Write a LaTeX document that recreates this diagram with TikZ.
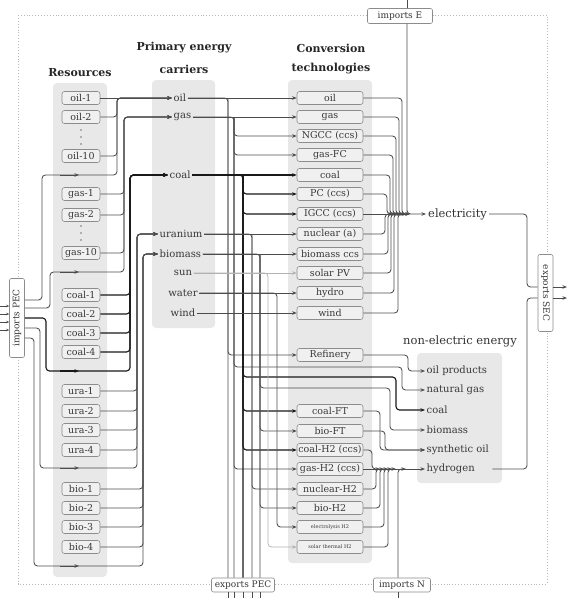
\documentclass[tikz,border=0pt]{standalone}
\usepackage{fontspec}
\setmainfont{DejaVu Serif}
\usetikzlibrary{arrows.meta,backgrounds}
\begin{document}
\begin{tikzpicture}[x=1pt,y=-1pt,
  anybox/.style={draw=black!45, fill=black!6, line width=0.6pt, rounded corners=2.5pt, inner sep=0pt, minimum height=13pt, font=\fontsize{9.5}{10}\selectfont, text=black!78},
  rbox/.style={anybox, minimum width=38pt},
  tbox/.style={anybox, minimum width=66pt},
  colbg/.style={fill=black!9, draw=none, rounded corners=4pt},
  clab/.style={inner sep=1.5pt, font=\fontsize{10}{11}\selectfont, text=black!78},
  ttl/.style={font=\bfseries\fontsize{11}{12}\selectfont, text=black!85},
  fl/.style={draw=black!70, line width=0.85pt, rounded corners=3.5pt},
  cfl/.style={draw=black!90, line width=1.15pt, rounded corners=3.5pt},
  lfl/.style={draw=black!30, line width=0.75pt, rounded corners=3.5pt},
  arw/.style={-{Stealth[length=4.5pt,width=3.5pt]}},
  portbox/.style={draw=black!45, fill=white, line width=0.6pt, rounded corners=2pt, inner sep=1pt, font=\fontsize{9}{10}\selectfont, text=black!78},
]
\useasboundingbox (0,0) rectangle (570,598);

% titles
\node[ttl] (tRes) at (80,73) {Resources};
\node[ttl] (tPri1) at (184,48) {Primary energy};
\node[ttl] (tPri2) at (184,69) {carriers};
\node[ttl] (tCon1) at (331,48) {Conversion};
\node[ttl] (tCon2) at (331,69) {technologies};
\node[font=\fontsize{11.5}{13}\selectfont, text=black!80] (tNE) at (460,341) {non-electric energy};

% resources
\foreach \n/\lbl/\y in {oila/oil-1/98, oilb/oil-2/117, oilj/oil-10/156, gasa/gas-1/194, gasb/gas-2/215, gasj/gas-10/253, coala/coal-1/295, coalb/coal-2/314, coalc/coal-3/333, coald/coal-4/352, uraa/ura-1/391, urab/ura-2/411, urac/ura-3/430, urad/ura-4/450, bioa/bio-1/489, biob/bio-2/508, bioc/bio-3/527, biod/bio-4/547}
  \node[rbox] (\n) at (81,\y) {\lbl};
\foreach \y in {130,137,144,226,233,240} \fill[black!55] (81,\y) circle[radius=0.9pt];

% carriers
\node[clab,anchor=west] (coil) at (172,98) {oil};
\node[clab,anchor=west] (cgas) at (172,117) {gas};
\node[clab,anchor=west] (ccoal) at (168,175) {coal};
\node[clab,anchor=west] (cura) at (158,234) {uranium};
\node[clab,anchor=west] (cbio) at (158,254) {biomass};
\node[clab] (csun) at (183,273) {sun};
\node[clab] (cwat) at (183,293) {water};
\node[clab] (cwind) at (183,313) {wind};

% technologies
\foreach \n/\lbl/\y in {toil/oil/98, tgas/gas/117, ngcc/NGCC (ccs)/136, gasfc/gas-FC/155, tcoal/coal/175, pc/PC (ccs)/194, igcc/IGCC (ccs)/214, nuc/nuclear (a)/234, bioccs/biomass ccs/254, pv/solar PV/273, hydro/hydro/293, twind/wind/313, refin/Refinery/355, coalft/coal-FT/411, bioft/bio-FT/431, coalh/coal-H2 (ccs)/450, gash/gas-H2 (ccs)/469, nuch/nuclear-H2/489, bioh/bio-H2/508}
  \node[tbox] (\n) at (330,\y) {\lbl};
\node[tbox, font=\fontsize{5}{6}\selectfont] (elh) at (330,527) {electrolysis H2};
\node[tbox, font=\fontsize{5}{6}\selectfont] (sth) at (330,547) {solar thermal H2};

% outputs
\node[font=\fontsize{11.5}{13}\selectfont, text=black!80, anchor=west, inner sep=2pt] (elec) at (426,214) {electricity};
\foreach \n/\lbl/\y in {neoil/oil products/371, negas/natural gas/390, necoal/coal/410, nebio/biomass/430, nesyn/synthetic oil/450, hyd/hydrogen/469}
  \node[clab,anchor=west] (\n) at (425,\y) {\lbl};

% ports
\node[portbox, minimum width=65pt, minimum height=15pt] (imE) at (400,16) {imports E};
\node[portbox, minimum width=57pt, minimum height=14pt] (imN) at (402,585) {imports N};
\node[portbox, minimum width=63pt, minimum height=14pt] (exPEC) at (243,585) {exports PEC};
\node[portbox, minimum width=15pt, minimum height=79pt] (imPEC) at (17,318) {\rotatebox{90}{imports PEC}};
\node[portbox, minimum width=15pt, minimum height=77pt] (exSEC) at (545.5,293) {\rotatebox{-90}{exports SEC}};

% backgrounds
\begin{scope}[on background layer]
  \draw[black!28, dotted, line width=0.9pt] (18,15) rectangle (547,584);
  \path[colbg] (53,83) rectangle (107,577);
  \path[colbg] (152,80) rectangle (215,328);
  \path[colbg] (288,80) rectangle (372,563);
  \path[colbg] (417,353) rectangle (502,483);
\end{scope}

% bus coordinates
\coordinate (bO) at (228,0);
\coordinate (bG) at (234,0);
\coordinate (bC) at (243,0);
\coordinate (bU) at (252,0);
\coordinate (bB) at (260,0);
\coordinate (bS) at (268,0);
\coordinate (bW) at (277,0);

% resources -> carriers
\draw[fl,arw] (oila.east) -- (coil.west);
\foreach \n in {oilb,oilj} \draw[fl,arw] (\n.east) -- (\n.east -| 117,0) -- (117,98) -- (coil.west);
\draw[fl,arw] (imPEC.east |- 0,300) -- (42,300) -- (42,175) -- (117,175) -- (117,98) -- (coil.west);
\draw[fl,arw] (60,175) -- (79,175);

\foreach \n in {gasa,gasb,gasj} \draw[fl,arw] (\n.east) -- (\n.east -| 124,0) -- (124,117) -- (cgas.west);
\draw[fl,arw] (imPEC.east |- 0,308) -- (50,308) -- (50,272) -- (124,272) -- (124,117) -- (cgas.west);
\draw[fl,arw] (60,272) -- (79,272);

\foreach \n in {coala,coalb,coalc,coald} \draw[cfl,arw] (\n.east) -- (\n.east -| 130,0) -- (130,175) -- (ccoal.west);
\draw[cfl,arw] (imPEC.east |- 0,318) -- (46,318) -- (46,371) -- (130,371) -- (130,175) -- (ccoal.west);
\draw[cfl,arw] (60,371) -- (79,371);

\foreach \n in {uraa,urab,urac,urad} \draw[fl,arw] (\n.east) -- (\n.east -| 137,0) -- (137,234) -- (cura.west);
\draw[fl,arw] (imPEC.east |- 0,328) -- (40,328) -- (40,468) -- (137,468) -- (137,234) -- (cura.west);
\draw[fl,arw] (60,468) -- (79,468);

\foreach \n in {bioa,biob,bioc,biod} \draw[fl,arw] (\n.east) -- (\n.east -| 143,0) -- (143,254) -- (cbio.west);
\draw[fl,arw] (imPEC.east |- 0,338) -- (34,338) -- (34,566) -- (143,566) -- (143,254) -- (cbio.west);
\draw[fl,arw] (60,566) -- (79,566);

\foreach \y in {306,314,322,330} \draw[fl,line width=0.5pt,-{Stealth[length=3pt,width=2.5pt]}] (0,\y) -- (imPEC.west |- 0,\y);

% carriers -> technologies
\draw[fl,arw] (coil.east) -- (toil.west);
\draw[fl] (coil.east) -- (bO |- coil) -- (bO |- exPEC.north);
\draw[fl,arw] (bO |- coil) -- (bO |- refin) -- (refin.west);

\draw[fl,arw] (cgas.east) -- (tgas.west);
\draw[fl] (cgas.east) -- (bG |- cgas) -- (bG |- exPEC.north);
\foreach \n in {ngcc,gasfc,gash} \draw[fl,arw] (bG |- cgas) -- (bG |- \n) -- (\n.west);
\draw[fl,arw] (bG |- cgas) -- (234,367) -- (402,367) -- (402,390) -- (negas.west);

\draw[cfl,arw] (ccoal.east) -- (tcoal.west);
\draw[cfl] (ccoal.east) -- (bC |- ccoal) -- (bC |- exPEC.north);
\foreach \n in {pc,igcc,coalft,coalh} \draw[cfl,arw] (bC |- ccoal) -- (bC |- \n) -- (\n.west);
\draw[cfl,arw] (bC |- ccoal) -- (243,377) -- (396,377) -- (396,410) -- (necoal.west);

\draw[fl,arw] (cura.east) -- (nuc.west);
\draw[fl] (cura.east) -- (bU |- cura) -- (bU |- exPEC.north);
\draw[fl,arw] (bU |- cura) -- (bU |- nuch) -- (nuch.west);

\draw[fl,arw] (cbio.east) -- (bioccs.west);
\draw[fl] (cbio.east) -- (bB |- cbio) -- (bB |- exPEC.north);
\foreach \n in {bioft,bioh} \draw[fl,arw] (bB |- cbio) -- (bB |- \n) -- (\n.west);
\draw[fl,arw] (bB |- cbio) -- (260,388) -- (390,388) -- (390,430) -- (nebio.west);

\draw[lfl,arw] (csun.east) -- (pv.west);
\draw[lfl,arw] (csun.east) -- (bS |- csun) -- (bS |- sth) -- (sth.west);
\draw[fl,arw] (cwat.east) -- (hydro.west);
\draw[fl,arw] (cwat.east) -- (bW |- cwat) -- (bW |- elh) -- (elh.west);
\draw[fl,arw] (cwind.east) -- (twind.west);

\foreach \x in {228,234,243,252,260} \draw[fl] (exPEC.south -| \x,0) -- (\x,598);

% electricity
\foreach \n/\x in {toil/402,tgas/399,ngcc/396,gasfc/393,tcoal/390,pc/387,nuc/385,bioccs/388,pv/391,hydro/394,twind/398}
  \draw[fl,arw] (\n.east) -- (\n.east -| \x,0) -- (\x,214) -- ({\x+8},214);
\draw[fl,arw] (igcc.east) -- (410,214);
\draw[fl] (407,0) -- (imE.north -| 407,0);
\draw[fl,arw] (imE.south -| 407,0) -- (407,214) -- (elec.west);

% non-electric
\draw[fl,arw] (refin.east) -- (408,355) -- (408,371) -- (neoil.west);
\draw[fl,arw] (coalft.east) -- (380,411) -- (380,450) -- (nesyn.west);
\draw[fl,arw] (bioft.east) -- (385,431) -- (385,450) -- (nesyn.west);
\draw[fl,arw] (coalh.east) -- (372,450) -- (372,469) -- (380,469);
\draw[fl,arw] (gash.east) -- (hyd.west);
\foreach \n/\x in {nuch/376,bioh/380,elh/384,sth/388}
  \draw[fl,arw] (\n.east) -- (\n.east -| \x,0) -- (\x,469) -- ({\x+8},469);
\draw[fl] (398,598) -- (imN.south -| 398,0);
\draw[fl,arw] (imN.north -| 398,0) -- (398,469) -- (406,469);

% exports SEC
\draw[fl] (elec.east) -- (527,214) -- (527,287) -- (exSEC.west |- 0,287);
\draw[fl,arw] (exSEC.east |- 0,287) -- (567,287);
\draw[fl] ([xshift=16pt]hyd.east) -- (527,469) -- (527,298) -- (exSEC.west |- 0,298);
\draw[fl,arw] (exSEC.east |- 0,298) -- (567,298);
\end{tikzpicture}
\end{document}
